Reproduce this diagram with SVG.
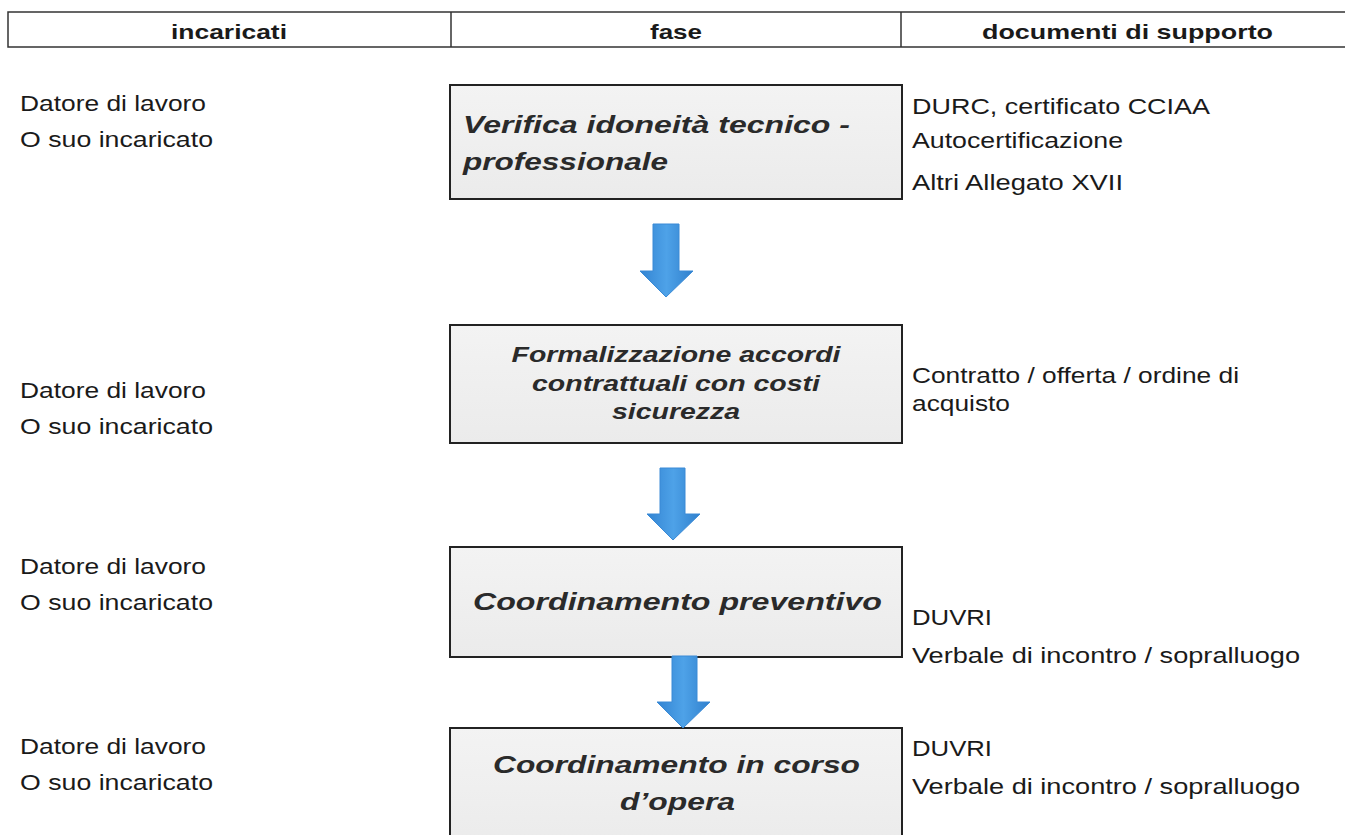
<svg xmlns="http://www.w3.org/2000/svg" width="1345" height="835" viewBox="0 0 1345 835">
<defs>
<linearGradient id="boxg" x1="0" y1="0" x2="0" y2="1">
<stop offset="0" stop-color="#f3f3f3"/>
<stop offset="1" stop-color="#ebebeb"/>
</linearGradient>
<linearGradient id="arrg" x1="0" y1="0" x2="1" y2="0">
<stop offset="0" stop-color="#3384d2"/>
<stop offset="0.5" stop-color="#4ea2e8"/>
<stop offset="1" stop-color="#3080cd"/>
</linearGradient>
<style>
.hdr{font-family:"Liberation Sans",Arial,sans-serif;font-weight:bold;font-size:21px;fill:#1a1a1a;text-anchor:middle}
.lbl{font-family:"Liberation Sans",Arial,sans-serif;font-size:21.5px;fill:#1a1a1a}
.ph{font-family:"Liberation Sans",Arial,sans-serif;font-weight:bold;font-style:italic;font-size:24.5px;fill:#2a2a2a}
.ph2{font-family:"Liberation Sans",Arial,sans-serif;font-weight:bold;font-style:italic;font-size:22px;fill:#2a2a2a;text-anchor:middle}
.box{fill:url(#boxg);stroke:#222;stroke-width:2}
.arr{fill:url(#arrg);stroke:#3a8ad6;stroke-width:1}
.line{stroke:#333;stroke-width:1.5;fill:none}
</style>
</defs>
<rect width="1345" height="835" fill="#ffffff"/>

<g id="header">
<path class="line" d="M1350,12 H8 V47 H1350"/>
<line class="line" x1="451" y1="12" x2="451" y2="47"/>
<line class="line" x1="901" y1="12" x2="901" y2="47"/>
<text class="hdr" x="229" y="39" textLength="116" lengthAdjust="spacingAndGlyphs">incaricati</text>
<text class="hdr" x="676" y="39" textLength="52" lengthAdjust="spacingAndGlyphs">fase</text>
<text class="hdr" x="1127.5" y="39" textLength="291" lengthAdjust="spacingAndGlyphs">documenti di supporto</text>
</g>

<g id="incaricati">
<text class="lbl" x="20" y="111" textLength="186" lengthAdjust="spacingAndGlyphs">Datore di lavoro</text>
<text class="lbl" x="20" y="147" textLength="193" lengthAdjust="spacingAndGlyphs">O suo incaricato</text>
<text class="lbl" x="20" y="398" textLength="186" lengthAdjust="spacingAndGlyphs">Datore di lavoro</text>
<text class="lbl" x="20" y="434" textLength="193" lengthAdjust="spacingAndGlyphs">O suo incaricato</text>
<text class="lbl" x="20" y="574" textLength="186" lengthAdjust="spacingAndGlyphs">Datore di lavoro</text>
<text class="lbl" x="20" y="610" textLength="193" lengthAdjust="spacingAndGlyphs">O suo incaricato</text>
<text class="lbl" x="20" y="754" textLength="186" lengthAdjust="spacingAndGlyphs">Datore di lavoro</text>
<text class="lbl" x="20" y="790" textLength="193" lengthAdjust="spacingAndGlyphs">O suo incaricato</text>
</g>

<g id="node1">
<rect class="box" x="450" y="85" width="452" height="114"/>
<text class="ph" x="463" y="133" textLength="387" lengthAdjust="spacingAndGlyphs">Verifica idoneità tecnico -</text>
<text class="ph" x="463" y="170" textLength="205" lengthAdjust="spacingAndGlyphs">professionale</text>
</g>
<g id="node2">
<rect class="box" x="450" y="325" width="452" height="118"/>
<text class="ph2" x="676" y="362" textLength="329" lengthAdjust="spacingAndGlyphs">Formalizzazione accordi</text>
<text class="ph2" x="676" y="391" textLength="288" lengthAdjust="spacingAndGlyphs">contrattuali con costi</text>
<text class="ph2" x="676" y="419" textLength="128" lengthAdjust="spacingAndGlyphs">sicurezza</text>
</g>
<g id="node3">
<rect class="box" x="450" y="547" width="452" height="110"/>
<text class="ph" x="677.5" y="610" text-anchor="middle" textLength="409" lengthAdjust="spacingAndGlyphs">Coordinamento preventivo</text>
</g>
<g id="node4">
<rect class="box" x="450" y="728" width="452" height="120"/>
<text class="ph" x="676.5" y="773" text-anchor="middle" textLength="367" lengthAdjust="spacingAndGlyphs">Coordinamento in corso</text>
<text class="ph" x="677.5" y="810" text-anchor="middle" textLength="115" lengthAdjust="spacingAndGlyphs">d’opera</text>
</g>

<g id="documenti">
<text class="lbl" x="912" y="114" textLength="298" lengthAdjust="spacingAndGlyphs">DURC, certificato CCIAA</text>
<text class="lbl" x="912" y="148" textLength="211" lengthAdjust="spacingAndGlyphs">Autocertificazione</text>
<text class="lbl" x="912" y="190" textLength="211" lengthAdjust="spacingAndGlyphs">Altri Allegato XVII</text>
<text class="lbl" x="912" y="383" textLength="327" lengthAdjust="spacingAndGlyphs">Contratto / offerta / ordine di</text>
<text class="lbl" x="912" y="411" textLength="98" lengthAdjust="spacingAndGlyphs">acquisto</text>
<text class="lbl" x="912" y="625" textLength="80" lengthAdjust="spacingAndGlyphs">DUVRI</text>
<text class="lbl" x="912" y="663" textLength="388" lengthAdjust="spacingAndGlyphs">Verbale di incontro / sopralluogo</text>
<text class="lbl" x="912" y="756" textLength="80" lengthAdjust="spacingAndGlyphs">DUVRI</text>
<text class="lbl" x="912" y="794" textLength="388" lengthAdjust="spacingAndGlyphs">Verbale di incontro / sopralluogo</text>
</g>

<g id="connectors">
<polygon class="arr" points="653,224 679,224 679,271 693,271 666,297 640,271 653,271"/>
<polygon class="arr" points="660,468 685,468 685,514 700,514 673,540 647,514 660,514"/>
<polygon class="arr" points="672,656 697,656 697,702 710,702 683,728 657,702 672,702"/>
</g>
</svg>
